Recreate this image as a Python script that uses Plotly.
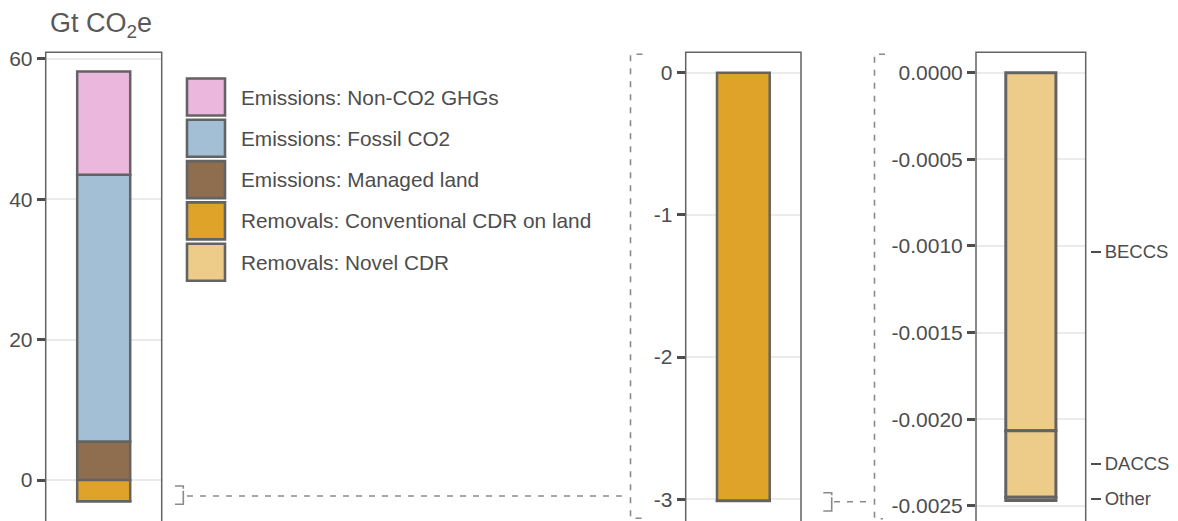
import plotly.graph_objects as go

# ---------------- data ----------------
categories = ["Emissions: Non-CO2 GHGs", "Emissions: Fossil CO2", "Emissions: Managed land",
              "Removals: Conventional CDR on land", "Removals: Novel CDR"]
values = [14.7, 38.0, 5.5, -3.01, -0.00247]
colors = ["#EBB7DC", "#A2BFD6", "#8F6E4F", "#DFA32A", "#EDCB88"]

novel_types = ["BECCS", "DACCS", "Other"]
novel_values = [-0.002067, -0.000384, -0.000019]

p1_ticks = [0, 20, 40, 60]
p1_labels = ["0", "20", "40", "60"]
p2_ticks = [0, -1, -2, -3]
p2_labels = ["0", "-1", "-2", "-3"]
p3_ticks = [0, -0.0005, -0.001, -0.0015, -0.002, -0.0025]
p3_labels = ["0.0000", "-0.0005", "-0.0010", "-0.0015", "-0.0020", "-0.0025"]

# ---------------- style ----------------
W, H = 1178, 521
FONT = "Liberation Sans, Arial, sans-serif"
TXT = "#4D4D4D"
EDGE = "#636363"
GRID = "#EBEBEB"
DASH = "#8A8A8A"
BARW = 0.457
BARLINE = 2.5


def px(x):
    return x / W


def py(y):
    return 1 - y / H


fig = go.Figure()

# panel 1: stack order from zero outward
stack_order = [2, 1, 0, 3, 4]
for i in stack_order:
    fig.add_trace(go.Bar(x=["all"], y=[values[i]], name=categories[i], width=BARW,
                         marker=dict(color=colors[i], line=dict(color=EDGE, width=BARLINE)),
                         xaxis="x", yaxis="y", showlegend=False))

# panel 2: removals
for i in [3, 4]:
    fig.add_trace(go.Bar(x=["removals"], y=[values[i]], name=categories[i], width=BARW,
                         marker=dict(color=colors[i], line=dict(color=EDGE, width=BARLINE)),
                         xaxis="x2", yaxis="y2", showlegend=False))

# panel 3: novel CDR breakdown
for name, v in zip(novel_types, novel_values):
    fig.add_trace(go.Bar(x=["novel"], y=[v], name=name, width=BARW,
                         marker=dict(color=colors[4], line=dict(color=EDGE, width=3)),
                         xaxis="x3", yaxis="y3", showlegend=False))

# secondary label positions = midpoints of each novel segment
mids = []
cum = 0.0
for v in novel_values:
    mids.append(cum + v / 2)
    cum += v
fig.add_trace(go.Scatter(x=["novel"] * len(mids), y=mids, mode="markers",
                         marker=dict(opacity=0), hoverinfo="skip",
                         xaxis="x3", yaxis="y4", showlegend=False))

ytop = py(52.3)
p1_range = [-5.84, 60.93]
p2_range = [-3.153, 0.1435]
p3_range = [-0.002588, 0.0001178]


def yax(domain_anchor, rng, tv, tt):
    return dict(domain=[0, ytop], anchor=domain_anchor, range=rng, tickvals=tv, ticktext=tt,
                ticks="outside", ticklen=8, tickwidth=2.5, tickcolor=TXT,
                showgrid=True, gridcolor=GRID, gridwidth=2, zeroline=False, showline=False,
                automargin=False,
                tickfont=dict(family=FONT, size=21, color=TXT), fixedrange=True)


def xax(dom, anchor):
    return dict(domain=dom, anchor=anchor, range=[-0.5, 0.5], showticklabels=False,
                showgrid=False, zeroline=False, ticks="", showline=False, fixedrange=True,
                automargin=False)


fig.update_layout(
    width=W, height=H, margin=dict(l=0, r=0, t=0, b=0, pad=0, autoexpand=False),
    paper_bgcolor="white", plot_bgcolor="white",
    barmode="relative", showlegend=False,
    font=dict(family=FONT, color=TXT),
    xaxis=xax([px(45.7), px(161.7)], "y"),
    xaxis2=xax([px(685.7), px(801)], "y2"),
    xaxis3=xax([px(976), px(1085.7)], "y3"),
    yaxis=yax("x", p1_range, p1_ticks, p1_labels),
    yaxis2=yax("x2", p2_range, p2_ticks, p2_labels),
    yaxis3=yax("x3", p3_range, p3_ticks, p3_labels),
    yaxis4=dict(overlaying="y3", side="right", anchor="free", position=px(1090),
                range=p3_range, tickvals=mids, ticktext=novel_types,
                ticks="outside", ticklen=10, tickwidth=1.5, tickcolor=TXT,
                showgrid=False, zeroline=False, showline=False, automargin=False,
                tickfont=dict(family=FONT, size=18.5, color=TXT), fixedrange=True),
)

shapes = []
# panel frames
for xr, yr in [("x domain", "y domain"), ("x2 domain", "y2 domain"), ("x3 domain", "y3 domain")]:
    shapes.append(dict(type="rect", xref=xr, yref=yr, x0=0, x1=1, y0=-0.1, y1=1,
                       line=dict(color=EDGE, width=1.5), layer="above"))


def path(points, dash="6px,7px"):
    d = "M " + " L ".join(f"{px(x)},{py(y)}" for x, y in points)
    return dict(type="path", xref="paper", yref="paper", path=d,
                line=dict(color=DASH, width=1.6, dash=dash), layer="above")


SMALL = "11px,2px,40px"
# zoom connectors
shapes.append(path([(175, 486), (183.3, 486), (183.3, 504.3), (175, 504.3)], SMALL))
shapes.append(path([(187, 496), (625, 496)]))
shapes.append(path([(642.5, 54.3), (630.5, 54.3), (630.5, 518.3), (643, 518.3)]))
shapes.append(path([(823.3, 492.7), (831.7, 492.7), (831.7, 511), (823.3, 511)], SMALL))
shapes.append(path([(834, 501.7), (870, 501.7)]))
shapes.append(path([(885, 54.3), (874.5, 54.3), (874.5, 518.7), (883, 518.7)]))

annotations = []
# legend
lx0, lx1 = 187, 225
ly0, pitch, bh = 78.5, 41.3, 37.0
for i, cat in enumerate(categories):
    y0 = ly0 + i * pitch
    shapes.append(dict(type="rect", xref="paper", yref="paper",
                       x0=px(lx0), x1=px(lx1), y0=py(y0), y1=py(y0 + bh),
                       fillcolor=colors[i], line=dict(color=EDGE, width=2.6)))
    annotations.append(dict(xref="paper", yref="paper", x=px(238.5), y=py(y0 + bh / 2),
                            xanchor="left", yanchor="middle", showarrow=False, text=cat,
                            font=dict(family=FONT, size=20.8, color=TXT)))

# unit title
annotations.append(dict(xref="paper", yref="paper", x=px(48), y=py(25), xanchor="left",
                        yanchor="middle", showarrow=False, text="Gt CO<sub>2</sub>e",
                        font=dict(family=FONT, size=27, color="#595959")))

fig.update_layout(shapes=shapes, annotations=annotations)
fig.write_html("out.html")
